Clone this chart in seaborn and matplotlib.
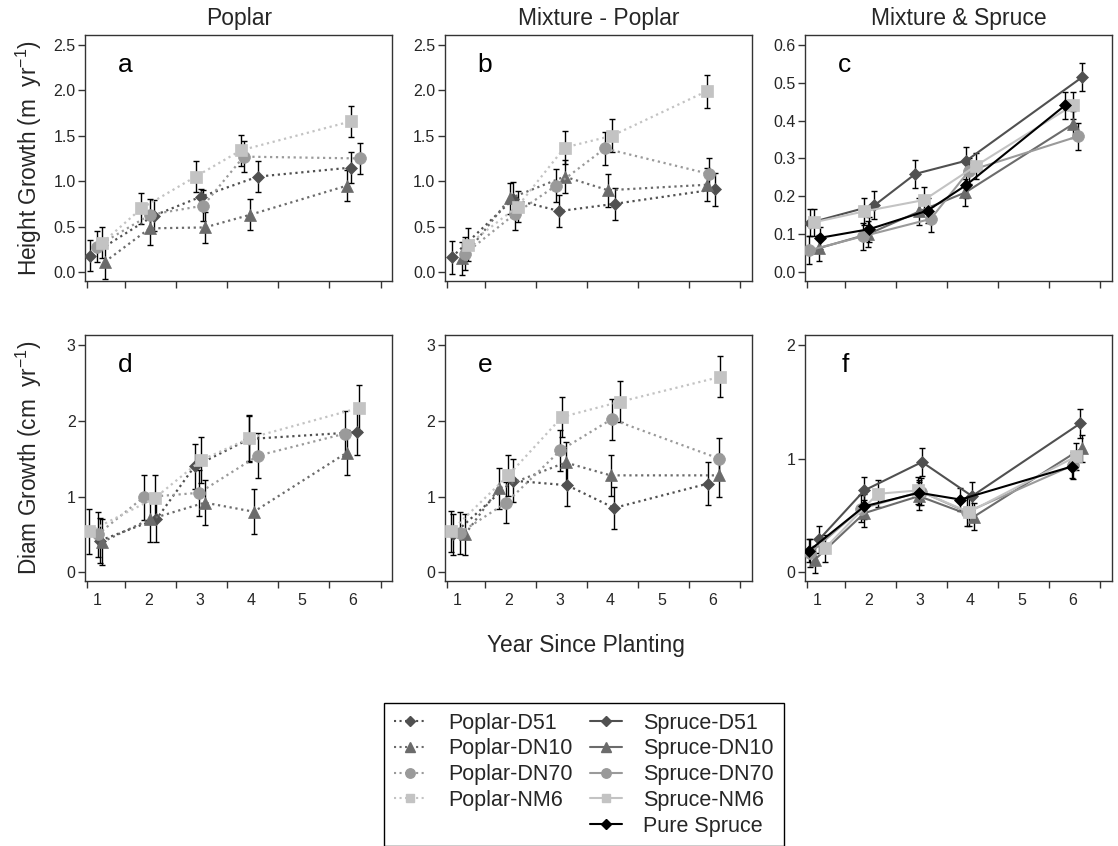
import numpy as np
import pandas as pd
import matplotlib
matplotlib.use("Agg")
import matplotlib.pyplot as plt
import seaborn as sns
from matplotlib.lines import Line2D

# ---------------- data ----------------
years = [1, 2, 3, 4, 6]
clones = ["D51", "DN10", "DN70", "NM6"]

# a: Poplar height growth (m/yr)
a_val = {"D51": [0.18, 0.62, 0.83, 1.05, 1.15], "DN10": [0.11, 0.48, 0.49, 0.63, 0.95],
         "DN70": [0.28, 0.63, 0.73, 1.27, 1.25], "NM6": [0.32, 0.70, 1.05, 1.34, 1.66]}
a_err = {"D51": [0.17, 0.17, 0.08, 0.17, 0.17], "DN10": [0.19, 0.18, 0.17, 0.17, 0.17],
         "DN70": [0.17, 0.17, 0.17, 0.17, 0.17], "NM6": [0.17, 0.17, 0.17, 0.17, 0.17]}
a_dx = {"D51": [-0.14, 0.10, 0.03, 0.14, -0.03], "DN10": [0.14, 0.02, 0.10, -0.01, -0.12],
        "DN70": [-0.02, 0.03, 0.07, -0.14, 0.14], "NM6": [0.09, -0.14, -0.08, -0.19, -0.03]}

# b: Mixture - Poplar height growth (m/yr)
b_val = {"D51": [0.16, 0.80, 0.67, 0.75, 0.91], "DN10": [0.15, 0.81, 1.05, 0.90, 0.96],
         "DN70": [0.20, 0.64, 0.95, 1.36, 1.08], "NM6": [0.30, 0.72, 1.37, 1.50, 1.99]}
b_err = {"D51": [0.18, 0.19, 0.18, 0.18, 0.18], "DN10": [0.18, 0.17, 0.18, 0.18, 0.18],
         "DN70": [0.18, 0.18, 0.18, 0.18, 0.18], "NM6": [0.18, 0.17, 0.18, 0.18, 0.18]}
b_dx = {"D51": [-0.11, 0.09, 0.00, 0.08, 0.05], "DN10": [0.10, 0.03, 0.10, -0.05, -0.12],
        "DN70": [0.15, 0.13, -0.07, -0.11, -0.07], "NM6": [0.21, 0.18, 0.10, 0.03, -0.12]}

# c: Mixture & Spruce - spruce height growth (m/yr)
c_val = {"D51": [0.13, 0.176, 0.259, 0.294, 0.514], "DN10": [0.063, 0.10, 0.16, 0.21, 0.39],
         "DN70": [0.057, 0.094, 0.14, 0.267, 0.358], "NM6": [0.131, 0.16, 0.19, 0.28, 0.44],
         "Pure": [0.09, 0.113, 0.162, 0.23, 0.44]}
c_err = {"D51": [0.035, 0.037, 0.036, 0.036, 0.037], "DN10": [0.035, 0.035, 0.035, 0.035, 0.035],
         "DN70": [0.037, 0.035, 0.035, 0.035, 0.035], "NM6": [0.035, 0.035, 0.035, 0.035, 0.035],
         "Pure": [0.03, 0.033, 0.033, 0.035, 0.035]}
c_dx = {"D51": [-0.14, 0.12, -0.08, -0.08, 0.18], "DN10": [0.04, 0.0, 0.0, -0.1, 0.0],
        "DN70": [-0.16, -0.11, 0.22, -0.03, 0.10], "NM6": [-0.07, -0.08, 0.09, 0.10, 0.0],
        "Pure": [0.05, 0.02, 0.16, -0.08, -0.15]}

# d: Poplar diameter growth (cm/yr)
d_val = {"D51": [0.42, 0.70, 1.40, 1.76, 1.85], "DN10": [0.40, 0.70, 0.92, 0.80, 1.58],
         "DN70": [0.50, 0.99, 1.05, 1.54, 1.83], "NM6": [0.54, 0.98, 1.48, 1.77, 2.17]}
d_err = {"D51": [0.30, 0.30, 0.30, 0.30, 0.30], "DN10": [0.30, 0.30, 0.30, 0.30, 0.30],
         "DN70": [0.30, 0.30, 0.30, 0.30, 0.30], "NM6": [0.30, 0.30, 0.30, 0.30, 0.30]}
d_dx = {"D51": [0.05, 0.15, -0.10, -0.03, 0.08], "DN10": [0.09, 0.02, 0.10, 0.06, -0.12],
        "DN70": [0.0, -0.10, -0.01, 0.14, -0.16], "NM6": [-0.16, 0.12, 0.03, -0.03, 0.12]}

# e: Mixture - Poplar diameter growth (cm/yr)
e_val = {"D51": [0.50, 1.21, 1.15, 0.85, 1.17], "DN10": [0.50, 1.11, 1.45, 1.28, 1.28],
         "DN70": [0.52, 0.92, 1.61, 2.02, 1.50], "NM6": [0.54, 1.28, 2.05, 2.25, 2.58]}
e_err = {"D51": [0.27, 0.28, 0.28, 0.28, 0.28], "DN10": [0.27, 0.27, 0.27, 0.27, 0.28],
         "DN70": [0.28, 0.27, 0.27, 0.27, 0.27], "NM6": [0.27, 0.27, 0.27, 0.27, 0.27]}
e_dx = {"D51": [-0.08, 0.09, 0.15, 0.07, -0.10], "DN10": [0.15, -0.18, 0.12, 0.0, 0.13],
        "DN70": [0.05, -0.04, 0.02, 0.02, 0.13], "NM6": [-0.13, 0.0, 0.05, 0.18, 0.15]}

# f: Mixture & Spruce - spruce diameter growth (cm/yr)
f_val = {"D51": [0.29, 0.72, 0.97, 0.67, 1.31], "DN10": [0.11, 0.52, 0.67, 0.49, 1.09],
         "DN70": [0.17, 0.56, 0.71, 0.53, 0.94], "NM6": [0.21, 0.69, 0.72, 0.53, 1.02],
         "Pure": [0.19, 0.58, 0.70, 0.64, 0.93]}
f_err = {"D51": [0.12, 0.12, 0.12, 0.12, 0.13], "DN10": [0.12, 0.12, 0.12, 0.12, 0.12],
         "DN70": [0.12, 0.12, 0.12, 0.12, 0.12], "NM6": [0.12, 0.12, 0.12, 0.12, 0.12],
         "Pure": [0.10, 0.11, 0.11, 0.10, 0.10]}
f_dx = {"D51": [0.04, -0.08, 0.05, 0.03, 0.15], "DN10": [-0.05, -0.08, -0.01, 0.07, 0.18],
        "DN70": [-0.14, -0.14, 0.03, -0.07, 0.0], "NM6": [0.15, 0.18, -0.03, -0.03, 0.07],
        "Pure": [-0.16, -0.08, -0.01, -0.20, -0.02]}

panel_letters = ["a", "b", "c", "d", "e", "f"]
col_titles = ["Poplar", "Mixture - Poplar", "Mixture & Spruce"]

# ---------------- styling ----------------
sns.set_theme(style="ticks")
plt.rcParams["font.family"] = ["Liberation Sans", "DejaVu Sans"]
plt.rcParams["mathtext.fontset"] = "custom"
plt.rcParams["mathtext.rm"] = "Liberation Sans"
plt.rcParams["mathtext.it"] = "Liberation Sans:italic"
plt.rcParams["mathtext.bf"] = "Liberation Sans:bold"

colors = {"D51": "#505050", "DN10": "#6b6b6b", "DN70": "#9a9a9a", "NM6": "#c3c3c3", "Pure": "#000000"}
markers = {"D51": "D", "DN10": "^", "DN70": "o", "NM6": "s", "Pure": "D"}
msizes = {"D51": 5.8, "DN10": 9, "DN70": 8.5, "NM6": 8, "Pure": 6.2}

W, H = 1118, 846
fig = plt.figure(figsize=(W / 100, H / 100), dpi=100)

lefts = [85.3, 445.0, 805.0]
tops = [35.0, 334.7]
aw, ah = 307.0, 246.0

panels = [
    (a_val, a_err, a_dx, "poplar", (-0.10, 2.61), np.arange(0, 2.51, 0.5), "{:.1f}"),
    (b_val, b_err, b_dx, "poplar", (-0.10, 2.61), np.arange(0, 2.51, 0.5), "{:.1f}"),
    (c_val, c_err, c_dx, "spruce", (-0.024, 0.626), np.arange(0, 0.61, 0.1), "{:.1f}"),
    (d_val, d_err, d_dx, "poplar", (-0.11, 3.136), [0, 1, 2, 3], "{:.0f}"),
    (e_val, e_err, e_dx, "poplar", (-0.11, 3.136), [0, 1, 2, 3], "{:.0f}"),
    (f_val, f_err, f_dx, "spruce", (-0.074, 2.09), [0, 1, 2], "{:.0f}"),
]

for i, (vals, errs, dxs, kind, ylim, yticks, fmt) in enumerate(panels):
    r, c = divmod(i, 3)
    ax = fig.add_axes([lefts[c] / W, 1 - (tops[r] + ah) / H, aw / W, ah / H])
    rows = []
    for s in vals:
        for yr, v, e, dx in zip(years, vals[s], errs[s], dxs[s]):
            rows.append({"series": s, "x": yr + dx, "y": v, "err": e})
    df = pd.DataFrame(rows)
    for s in vals:
        sub = df[df.series == s]
        ls = ":" if kind == "poplar" else "-"
        lw = 1.6 if kind == "poplar" else 1.5
        ax.errorbar(sub.x, sub.y, yerr=sub.err, fmt="none", ecolor="black",
                    elinewidth=1.0, capsize=2.3, capthick=1.0, zorder=2)
        sns.lineplot(data=sub, x="x", y="y", ax=ax, color=colors[s], linestyle=ls,
                     linewidth=lw, marker=markers[s], markersize=msizes[s],
                     markeredgecolor=colors[s], markeredgewidth=0.5,
                     errorbar=None, sort=False, legend=False, zorder=3)
    ax.set_xlim(0.76, 6.77)
    ax.set_ylim(*ylim)
    ax.set_xticks(years + [5])
    ax.set_xticks([0.79, 1.54, 2.54, 3.54, 4.54, 5.54, 6.54], minor=True)
    ax.tick_params(axis="x", which="major", length=0, pad=9, labelsize=11.5)
    ax.tick_params(axis="x", which="minor", length=5, width=1, direction="out", color="#333333")
    if r == 0:
        ax.set_xticklabels([])
    else:
        ax.set_xticklabels([str(t) for t in years + [5]])
    ax.set_yticks(yticks)
    ax.set_yticklabels([fmt.format(t) for t in yticks])
    ax.tick_params(axis="y", length=5, width=1, direction="out", labelsize=11.5, pad=2, color="#333333")
    ax.set_xlabel("")
    ax.set_ylabel("")
    for sp in ax.spines.values():
        sp.set_visible(True)
        sp.set_linewidth(1.0)
        sp.set_color("#333333")
    ax.text(0.13, 0.85, panel_letters[i], transform=ax.transAxes, fontsize=19,
            ha="center", va="baseline", color="black")

for c, t in enumerate(col_titles):
    fig.text((lefts[c] + aw / 2) / W, 1 - 18 / H, t, ha="center", va="center", fontsize=16.5)

fig.text(29 / W, 1 - 158 / H, "Height Growth (m  yr$^{-1}$)", rotation=90,
         ha="center", va="center", fontsize=16.3)
fig.text(29 / W, 1 - 457.7 / H, "Diam Growth (cm  yr$^{-1}$)", rotation=90,
         ha="center", va="center", fontsize=16.3)
fig.text(586 / W, 1 - 645 / H, "Year Since Planting", ha="center", va="center", fontsize=16.4)

handles, labels = [], []
for s in clones:
    handles.append(Line2D([], [], color=colors[s], linestyle=":", linewidth=1.5,
                          marker=markers[s], markersize=msizes[s] * 0.8, markeredgecolor=colors[s]))
    labels.append("Poplar-" + s)
handles.append(Line2D([], [], linestyle="none"))
labels.append("")
for s in clones:
    handles.append(Line2D([], [], color=colors[s], linestyle="-", linewidth=1.5,
                          marker=markers[s], markersize=msizes[s] * 0.8, markeredgecolor=colors[s]))
    labels.append("Spruce-" + s)
handles.append(Line2D([], [], color="black", linestyle="-", linewidth=1.5,
                      marker="D", markersize=5.5))
labels.append("Pure Spruce")

leg = fig.legend(handles, labels, ncol=2, loc="upper center",
                 bbox_to_anchor=(584 / W, 1 - 703 / H), borderaxespad=0.0,
                 frameon=True, fancybox=False,
                 edgecolor="black", framealpha=1, fontsize=15.5, handlelength=1.5,
                 handletextpad=1.0, columnspacing=0.8, labelspacing=0.22, borderpad=0.45)
leg.get_frame().set_linewidth(1.0)

fig.savefig("out.png", dpi=100)
